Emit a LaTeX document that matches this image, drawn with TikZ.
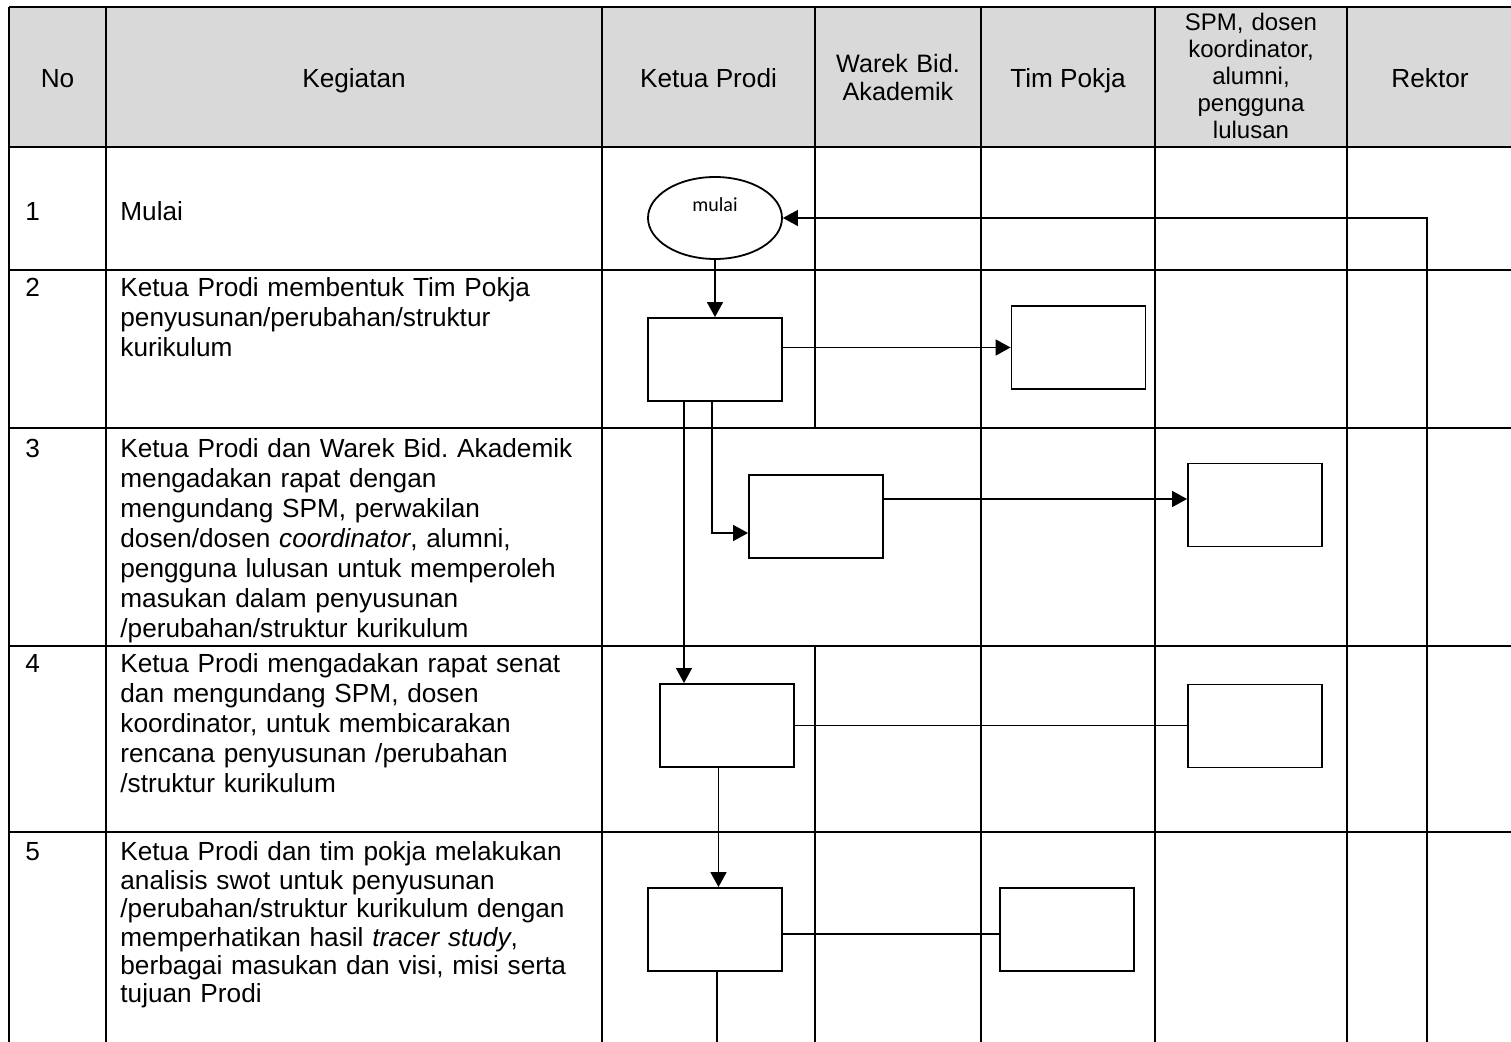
\documentclass[tikz,border=0pt]{standalone}
\usepackage{fontspec}
\setmainfont{Liberation Sans}
\newfontfamily\mulaifont{Carlito}
\usetikzlibrary{arrows.meta,shapes.geometric,calc}
\definecolor{hdrgray}{HTML}{D9D9D9}
\frenchspacing
\begin{document}
\frenchspacing
\begin{tikzpicture}[x=0.5pt,y=-0.5pt,
  grid/.style={line width=1.1pt},
  box/.style={draw,line width=0.95pt,minimum width=67pt,minimum height=41.5pt,inner sep=0pt},
  conn/.style={line width=0.9pt},
  thinconn/.style={line width=0.55pt},
  arr/.style={-{Triangle[length=7.5pt,width=8pt]}},
  hdr/.style={font=\fontsize{13.1}{15}\selectfont,anchor=base,inner sep=0pt},
  hdrml/.style={anchor=base,inner sep=0pt,align=center},
  rowtxt/.style={font=\fontsize{13.1}{15}\selectfont,anchor=base west,inner sep=0pt,text width=240pt,align=left},
  num/.style={font=\fontsize{13.1}{15}\selectfont,anchor=base west,inner sep=0pt},
]
\useasboundingbox (0,0) rectangle (1511,1042);
% header background
\fill[hdrgray] (9,7) rectangle (1511,147);
% horizontal grid lines
\foreach \yy in {7,147,270,428,646,832}
  \draw[grid] (9,\yy) -- (1511,\yy);
% vertical grid lines
\foreach \xx in {9,106,602,981,1155,1347}
  \draw[grid] (\xx,7) -- (\xx,1042);
\draw[grid] (815,7) -- (815,428);
\draw[grid] (815,646) -- (815,1042);

% header texts
\node[hdr] (hNo) at (57.5,87.5) {No};
\node[hdr] (hKeg) at (354,87.5) {Kegiatan};
\node[hdr] (hKP) at (708.5,87.5) {Ketua Prodi};
\node[hdrml,text width=80pt,font=\fontsize{12.6}{14.2}\selectfont] (hWR) at (898,72.5) {Warek Bid.\\Akademik};
\node[hdr] (hTP) at (1068,87.5) {Tim Pokja};
\node[hdrml,text width=90pt,font=\fontsize{12}{13.5}\selectfont] (hSPM) at (1251,31) {SPM, dosen\\koordinator,\\alumni,\\pengguna\\lulusan};
\node[hdr] (hRk) at (1430,87.5) {Rektor};

% row texts
\node[num] (n1) at (25,221) {1};
\node[rowtxt] (t1) at (120,221) {Mulai};
\node[num] (n2) at (25,297) {2};
\node[rowtxt] (t2) at (120,297) {Ketua Prodi membentuk Tim Pokja\\penyusunan/perubahan/struktur\\kurikulum};
\node[num] (n3) at (25,458) {3};
\node[rowtxt] (t3) at (120,458) {Ketua Prodi dan Warek Bid. Akademik\\mengadakan rapat dengan\\mengundang SPM, perwakilan\\dosen/dosen \textit{coordinator}, alumni,\\pengguna lulusan untuk memperoleh\\masukan dalam penyusunan\\/perubahan/struktur kurikulum};
\node[num] (n4) at (25,673) {4};
\node[rowtxt] (t4) at (120,673) {Ketua Prodi mengadakan rapat senat\\dan mengundang SPM, dosen\\koordinator, untuk membicarakan\\rencana penyusunan /perubahan\\/struktur kurikulum};
\node[num] (n5) at (25,861) {5};
\node[rowtxt,font=\fontsize{13.1}{14.2}\selectfont] (t5) at (120,861) {Ketua Prodi dan tim pokja melakukan\\analisis swot untuk penyusunan\\/perubahan/struktur kurikulum dengan\\memperhatikan hasil \textit{tracer study},\\berbagai masukan dan visi, misi serta\\tujuan Prodi};

% flow shapes
\node[draw,ellipse,line width=0.9pt,minimum width=67pt,minimum height=41pt,inner sep=0pt,
      font=\mulaifont\fontsize{10}{12}\selectfont,text height=7pt,text depth=13pt] (S) at (715,218) {mulai};
\node[box] (A2) at (715,359.5) {};
\node[box] (B2) at (1078.5,347.5) {};
\node[box] (A3) at (816,516.5) {};
\node[box] (C3) at (1255,505) {};
\node[box] (A4) at (727,725.5) {};
\node[box] (C4) at (1255,726) {};
\node[box] (A5) at (715,929.5) {};
\node[box] (B5) at (1067,929.5) {};

% connectors
\draw[conn,arr] (S.south) -- (A2.north);
\draw[conn,arr] (A2.east |- B2.west) -- (B2.west);
\draw[conn,arr] ([xshift=-1.5pt]A2.south) |- ([yshift=-8.25pt]A3.west);
\draw[conn,arr] ([yshift=8.75pt]A3.east) -- ([yshift=8.75pt]A3.east -| C3.west);
\draw[thinconn,arr] ([xshift=-15.5pt]A2.south) -- ([xshift=-15.5pt]A2.south |- A4.north);
\draw[conn] (A4.east) -- (A4.east -| C4.west);
\draw[conn,arr] ([xshift=-4.25pt]A4.south) -- ([xshift=-4.25pt]A4.south |- A5.north);
\draw[conn] ([yshift=-2.4pt]A5.east) -- ([yshift=-2.4pt]A5.east -| B5.west);
\coordinate (endA) at (717,1042);
\draw[conn] ([xshift=1pt]A5.south) -- (endA);
\coordinate (fb) at (1427,1042);
\draw[thinconn,arr] (fb) |- (S.east);
\end{tikzpicture}
\end{document}
